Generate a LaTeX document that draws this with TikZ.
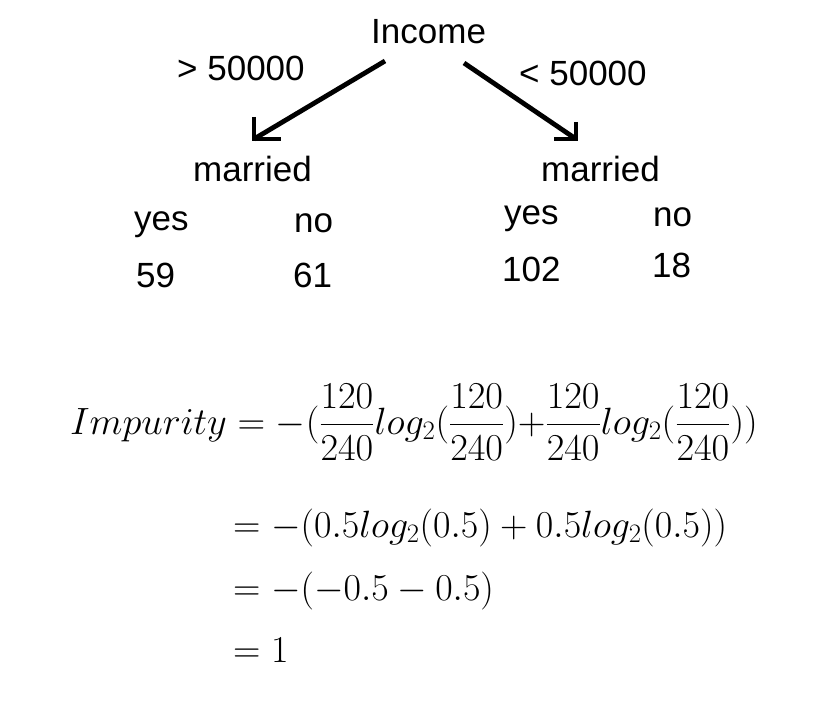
\RequirePackage{fix-cm}
\documentclass[tikz,border=0pt]{standalone}
\usepackage[no-math]{fontspec}
\usetikzlibrary{calc}
\newfontfamily\lsans{Liberation Sans}
\begin{document}
\begin{tikzpicture}[x=1pt,y=-1pt,
  lbl/.style={anchor=base west,inner sep=0pt,font=\lsans\fontsize{35}{42}\selectfont},
  eqn/.style={anchor=base west,inner sep=0pt,font=\fontsize{38}{45}\selectfont},
  arr/.style={line width=4.8pt,line join=miter,line cap=butt}]
\fill[white] (0,0) rectangle (837,714);
\useasboundingbox (0,0) rectangle (837,714);
% tree labels
\node[lbl] (income) at (371,44) {Income};
\node[lbl] (gt) at (177,81) {> 50000};
\node[lbl] (lt) at (519,86) {< 50000};
\node[lbl] (marL) at (193,182) {married};
\node[lbl] (marR) at (541,182) {married};
\node[lbl] (yesL) at (134,230) {yes};
\node[lbl] (noL) at (294,232) {no};
\node[lbl] (yesR) at (504,224) {yes};
\node[lbl] (noR) at (653,226) {no};
\node[lbl] (n59) at (136,287) {59};
\node[lbl] (n61) at (293,287) {61};
\node[lbl] (n102) at (502,281) {102};
\node[lbl] (n18) at (652,277) {18};
% arrows
\coordinate (aLs) at (385,61);
\coordinate (aLt) at (254,139);
\coordinate (aRs) at (464,63);
\coordinate (aRt) at (576,139);
\draw[arr] (aLs) -- (aLt);
\draw[arr] ($(aLt)+(0,-22)$) -- (aLt) -- ++(27,0);
\draw[arr] (aRs) -- (aRt);
\draw[arr] ($(aRt)+(0,-17)$) -- (aRt) -- ++(-22,0);
% equations
\node[eqn] (eq1) at (70,434) {\scalebox{1.01}[1]{$\displaystyle Impurity = -(\frac{120}{240}log_2(\frac{120}{240}){+}\frac{120}{240}log_2(\frac{120}{240}))$}};
\node[eqn] (eq2) at (233,537) {$=-(0.5log_2(0.5)+0.5log_2(0.5))$};
\node[eqn] (eq3) at (233,600) {$=-(-0.5-0.5)$};
\node[eqn] (eq4) at (233,662) {$=1$};
\end{tikzpicture}
\end{document}
